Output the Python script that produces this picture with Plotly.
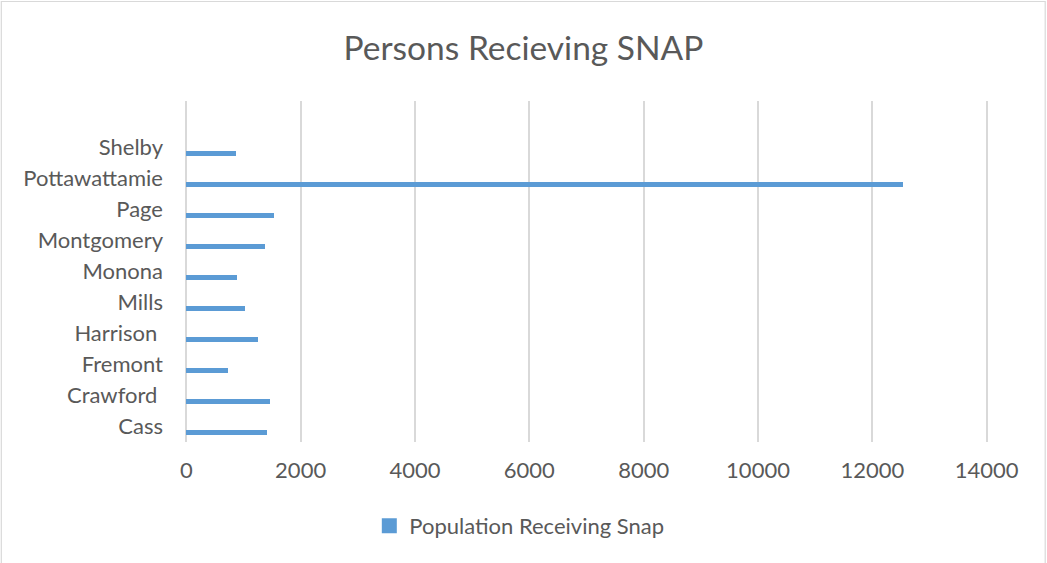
import plotly.graph_objects as go

counties = ["Cass", "Crawford ", "Fremont", "Harrison ", "Mills", "Monona",
            "Montgomery", "Page", "Pottawattamie", "Shelby"]
snap_values = [1413, 1465, 738, 1250, 1028, 883, 1385, 1530, 12540, 865]
x_ticks = [0, 2000, 4000, 6000, 8000, 10000, 12000, 14000]
series_name = "Population Receiving Snap"
title_text = "Persons Recieving SNAP"
bar_color = "#5b9bd5"

positions = list(range(len(counties)))

fig = go.Figure()
fig.add_trace(go.Bar(
    x=snap_values, y=positions, orientation="h",
    name=series_name,
    marker=dict(color=bar_color, line=dict(width=0)),
    offset=-0.29, width=0.19,
    showlegend=False,
))
# legend-only entry with a larger square swatch
fig.add_trace(go.Scatter(
    x=[None], y=[None], mode="markers", name=series_name,
    marker=dict(symbol="square", size=15, color=bar_color),
    showlegend=True,
))

W, H = 1047, 563
pad = 40  # axis units of padding so edge gridlines are drawn
px_per_unit = (987 - 186.5) / 14000
l = 186.5 - pad * px_per_unit
r = W - 987 - pad * px_per_unit
t, b = 101, 121
fig.update_layout(
    width=W, height=H,
    margin=dict(l=l, r=r, t=t, b=b, autoexpand=False),
    paper_bgcolor="white", plot_bgcolor="white",
    font=dict(family="Lato, Carlito, sans-serif", size=22, color="#595959"),
    title=dict(text=title_text, x=0.5, xanchor="center", xref="container",
               y=1 - 48 / H, yanchor="middle", yref="container",
               font=dict(size=33.5, color="#595959")),
    bargap=0,
    xaxis=dict(range=[-pad, 14000 + pad], tickvals=x_ticks,
               ticktext=[str(v) for v in x_ticks],
               showgrid=True, gridcolor="#d9d9d9", gridwidth=1.5,
               zeroline=False, showline=False, ticks="",
               ticklabelstandoff=13, fixedrange=True),
    yaxis=dict(range=[-0.5, 10.5], tickvals=positions, ticktext=counties,
               showgrid=False, zeroline=False, showline=False, ticks="",
               ticklabelstandoff=20, fixedrange=True),
    legend=dict(orientation="h", x=0.496, xref="container", xanchor="center",
                y=1 - 526 / H, yref="container", yanchor="middle",
                font=dict(size=22, color="#595959"), itemwidth=30),
)

pw = W - l - r
ph = H - t - b
fig.add_shape(type="rect", xref="paper", yref="paper",
              x0=(1.5 - l) / pw, x1=(1045.5 - l) / pw,
              y0=(H - b - 600) / ph, y1=(H - b - 1.5) / ph,
              line=dict(color="#d9d9d9", width=1.2), fillcolor="rgba(0,0,0,0)",
              layer="below")

fig.write_html("out.html")
